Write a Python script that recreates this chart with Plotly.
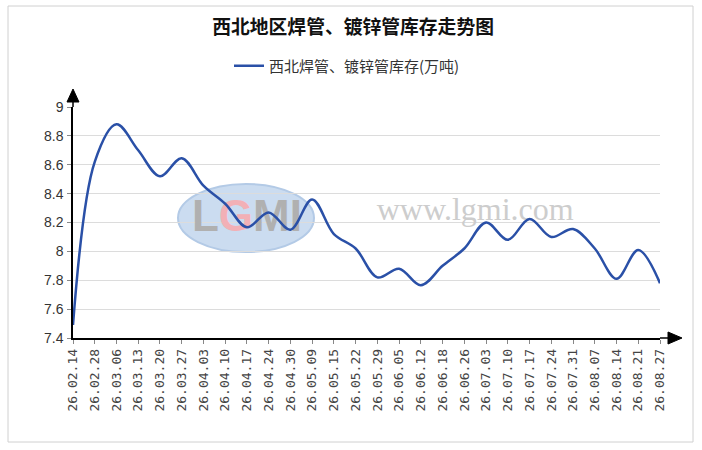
import plotly.graph_objs as go

# 西北地区焊管、镀锌管库存 (万吨)
dates = ['26.02.14', '26.02.28', '26.03.06', '26.03.13', '26.03.20', '26.03.27',
         '26.04.03', '26.04.10', '26.04.17', '26.04.24', '26.04.30', '26.05.09',
         '26.05.15', '26.05.22', '26.05.29', '26.06.05', '26.06.12', '26.06.18',
         '26.06.26', '26.07.03', '26.07.10', '26.07.17', '26.07.24', '26.07.31',
         '26.08.07', '26.08.14', '26.08.21', '26.08.27']
stock = [7.49, 8.62, 8.88, 8.70, 8.52, 8.645, 8.455, 8.33, 8.167, 8.27,
         8.15, 8.36, 8.12, 8.02, 7.82, 7.88, 7.765, 7.90, 8.02, 8.20,
         8.08, 8.225, 8.10, 8.155, 8.02, 7.81, 8.01, 7.78]
yticks = [7.4, 7.6, 7.8, 8.0, 8.2, 8.4, 8.6, 8.8, 9.0]

series_name = '西北焊管、镀锌管库存(万吨)'
title = '西北地区焊管、镀锌管库存走势图'

cjk = 'Noto Sans CJK SC'
idx = list(range(len(dates)))

# plot area in pixels: x 73..660, y 107..338
L, R, T, B = 73, 660, 107, 338
def px(x):
    return (x - L) / (R - L)
def py(y):
    return (B - y) / (B - T)

traces = []
# watermark (drawn under the line)
traces.append(go.Scatter(x=[8.0], y=[8.215], mode='text', showlegend=False, hoverinfo='skip',
                         text=["<b>L<span style='color:#f2b0b6'>G</span>MI</b>"],
                         textfont=dict(family='Liberation Sans', size=44, color='#b0b0b0')))
traces.append(go.Scatter(x=[18.5], y=[8.27], mode='text', showlegend=False, hoverinfo='skip',
                         text=['www.lgmi.com'],
                         textfont=dict(family='Liberation Serif', size=32, color='#cdcdcd')))
traces.append(go.Scatter(x=idx, y=stock, name=series_name, mode='lines',
                         line=dict(color='#2a50a7', width=2.5, shape='spline', smoothing=1.0),
                         hoverinfo='x+y'))

shapes = [
    # outer frame
    dict(type='rect', xref='paper', yref='paper', x0=px(8), x1=px(693), y0=py(442), y1=py(6),
         line=dict(color='#d0d0d0', width=1), layer='below'),
    # logo ellipse
    dict(type='circle', xref='paper', yref='paper', x0=px(178), x1=px(314), y0=py(252), y1=py(184),
         fillcolor='#cbdcf0', line=dict(color='#b3cae6', width=2), layer='below'),
    # axis extensions and arrows
    dict(type='line', xref='paper', yref='paper', x0=1, x1=px(670), y0=0, y1=0,
         line=dict(color='black', width=1.5)),
    dict(type='path', xref='paper', yref='paper',
         path='M %f,%f L %f,%f L %f,%f Z' % (px(668), py(332), px(682), py(338), px(668), py(344)),
         fillcolor='black', line=dict(color='black', width=1)),
    dict(type='line', xref='paper', yref='paper', x0=0, x1=0, y0=1, y1=py(100),
         line=dict(color='black', width=1.5)),
    dict(type='path', xref='paper', yref='paper',
         path='M %f,%f L %f,%f L %f,%f Z' % (px(67), py(102), px(73), py(89), px(79), py(102)),
         fillcolor='black', line=dict(color='black', width=1)),
]

layout = go.Layout(
    width=702, height=450,
    margin=dict(l=L, r=702 - R, t=T, b=450 - B),
    paper_bgcolor='white', plot_bgcolor='white',
    title=dict(text='<b>' + title + '</b>', x=0.503, xanchor='center', y=1 - 27.5 / 450, yanchor='middle',
               font=dict(family=cjk, size=18.8, color='#111111')),
    showlegend=True,
    legend=dict(orientation='h', x=px(347), xanchor='center', y=py(66), yanchor='middle',
                font=dict(family=cjk, size=15, color='#333333'), itemwidth=30,
                bgcolor='rgba(0,0,0,0)'),
    xaxis=dict(range=[0, len(dates) - 1], tickvals=idx, ticktext=dates, tickangle=-90,
               showgrid=False, zeroline=False, showline=True, linecolor='black', linewidth=1.5,
               ticks='outside', ticklen=4, tickcolor='#888888',
               tickfont=dict(family='DejaVu Sans Mono', size=13, color='#444444')),
    yaxis=dict(range=[7.4, 9.0], tickvals=yticks, showgrid=True, gridcolor='#dcdcdc', gridwidth=1,
               zeroline=False, showline=True, linecolor='black', linewidth=1.5,
               ticks='outside', ticklen=4, tickcolor='#888888', ticklabelstandoff=1,
               tickfont=dict(family='Liberation Sans', size=14, color='#333333')),
    shapes=shapes,
)

fig = go.Figure(data=traces, layout=layout)
# page has a default 8px body margin; drop it so the figure sits at the window corner
fig.write_html('out.html', config={'displayModeBar': False},
               post_script="document.body.style.margin='0';")
